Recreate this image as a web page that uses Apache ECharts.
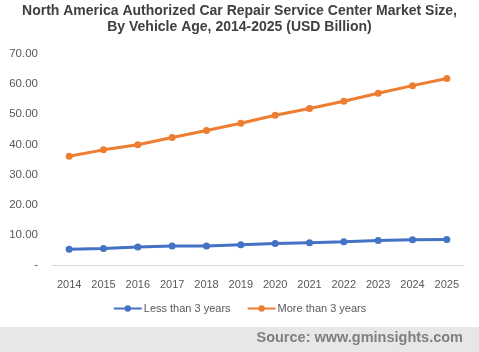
<!DOCTYPE html>
<html><head><meta charset="utf-8">
<script src="https://cdn.jsdelivr.net/npm/echarts@6/dist/echarts.min.js"></script>
<style>html,body{margin:0;padding:0;background:#fff}#c{width:479px;height:352px}</style>
</head><body><div id="c"></div>
<script>
const years = ['2014','2015','2016','2017','2018','2019','2020','2021','2022','2023','2024','2025'];
const lessThan3 = [5.2, 5.5, 6.0, 6.3, 6.3, 6.7, 7.1, 7.4, 7.7, 8.1, 8.4, 8.5];
const moreThan3 = [36.1, 38.2, 39.9, 42.3, 44.6, 47.0, 49.7, 51.9, 54.3, 57.0, 59.5, 61.9];
const seriesNames = ['Less than 3 years', 'More than 3 years'];
const titleText = 'North America Authorized Car Repair Service Center Market Size,\nBy Vehicle Age, 2014-2025 (USD Billion)';
const sourceText = 'Source: www.gminsights.com';

const chart = echarts.init(document.getElementById('c'), null, {renderer:'canvas'});
chart.setOption({
  animation: false,
  backgroundColor: '#fff',
  title: {
    text: titleText, left: 'center', top: -2,
    textStyle: {fontFamily: 'Liberation Sans, Arial', fontSize: 14, fontWeight: 'bold', color: '#404040', lineHeight: 16}
  },
  grid: {left: 52, right: 15, top: 54, bottom: 87, containLabel: false},
  legend: {
    data: seriesNames, top: 298, left: 'center', itemWidth: 28, itemHeight: 8, itemGap: 16,
    textStyle: {fontFamily: 'Liberation Sans, Arial', fontSize: 11, color: '#595959', padding: [0, 0, 0, -3]}
  },
  xAxis: {
    type: 'category', data: years, boundaryGap: true,
    axisLine: {lineStyle: {color: '#d9d9d9', width: 1}},
    axisTick: {show: false},
    axisLabel: {fontFamily: 'Liberation Sans, Arial', fontSize: 11, color: '#595959', margin: 14}
  },
  yAxis: {
    type: 'value', min: 0, max: 70, interval: 10,
    axisLine: {show: false}, axisTick: {show: false}, splitLine: {show: false},
    axisLabel: {fontFamily: 'Liberation Sans, Arial', fontSize: 11.5, color: '#595959', margin: 14,
      formatter: v => v === 0 ? '-' : v.toFixed(2)}
  },
  series: [
    {name: seriesNames[0], type: 'line', data: lessThan3, symbol: 'circle', symbolSize: 7,
     lineStyle: {width: 3, color: '#4472c4'}, itemStyle: {color: '#4472c4'}},
    {name: seriesNames[1], type: 'line', data: moreThan3, symbol: 'circle', symbolSize: 7,
     lineStyle: {width: 3, color: '#ed7d31'}, itemStyle: {color: '#ed7d31'}}
  ],
  graphic: [
    {type: 'rect', left: 0, top: 327, shape: {width: 479, height: 25}, style: {fill: '#e7e7e7'}, z: -1},
    {type: 'text', right: 16, top: 330, style: {text: sourceText, fill: '#7f7f7f', font: 'bold 14.5px "Liberation Sans", Arial'}}
  ]
});
</script></body></html>
